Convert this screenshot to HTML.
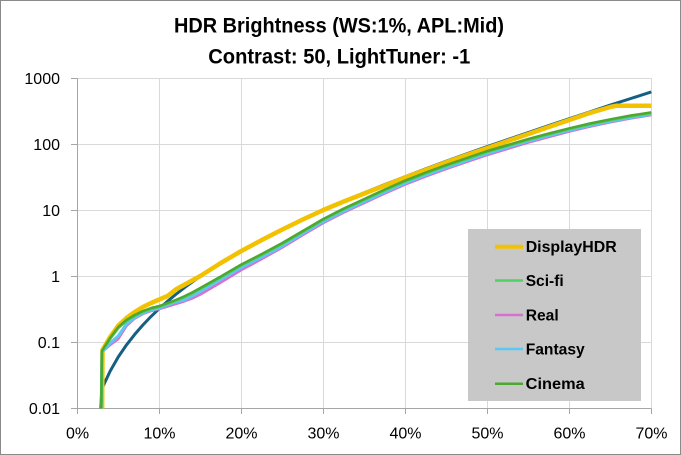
<!DOCTYPE html>
<html><head><meta charset="utf-8"><style>
html,body{margin:0;padding:0;background:#fff;}
svg{display:block;}
</style></head><body>
<svg width="681" height="455" viewBox="0 0 681 455" xmlns="http://www.w3.org/2000/svg" font-family="'Liberation Sans', Arial, sans-serif">
<rect x="0" y="0" width="681" height="455" fill="#fff"/>
<rect x="0.5" y="0.5" width="680" height="454" fill="none" stroke="#8a8a8a"/>

<!-- Title -->
<text x="174" y="32.3" font-size="21" font-weight="bold" fill="#000" textLength="330" lengthAdjust="spacingAndGlyphs">HDR Brightness (WS:1%, APL:Mid)</text>
<text x="208.3" y="63.3" font-size="21" font-weight="bold" fill="#000" textLength="262" lengthAdjust="spacingAndGlyphs">Contrast: 50, LightTuner: -1</text>

<!-- Gridlines -->
<g stroke="#d9d9d9" stroke-width="1" shape-rendering="crispEdges">
<line x1="77.5" y1="78.5" x2="651.5" y2="78.5"/>
<line x1="77.5" y1="144.5" x2="651.5" y2="144.5"/>
<line x1="77.5" y1="210.5" x2="651.5" y2="210.5"/>
<line x1="77.5" y1="276.5" x2="651.5" y2="276.5"/>
<line x1="77.5" y1="342.5" x2="651.5" y2="342.5"/>
<line x1="159.5" y1="78.5" x2="159.5" y2="408.5"/>
<line x1="241.5" y1="78.5" x2="241.5" y2="408.5"/>
<line x1="323.5" y1="78.5" x2="323.5" y2="408.5"/>
<line x1="405.5" y1="78.5" x2="405.5" y2="408.5"/>
<line x1="487.5" y1="78.5" x2="487.5" y2="408.5"/>
<line x1="569.5" y1="78.5" x2="569.5" y2="408.5"/>
<line x1="651.5" y1="78.5" x2="651.5" y2="408.5"/>
</g>

<!-- Axes -->
<g stroke="#a6a6a6" stroke-width="1" shape-rendering="crispEdges">
<line x1="77.5" y1="78.5" x2="77.5" y2="408.5"/>
<line x1="77.5" y1="408.5" x2="651.5" y2="408.5"/>
<line x1="71" y1="78.5" x2="77.5" y2="78.5"/>
<line x1="71" y1="144.5" x2="77.5" y2="144.5"/>
<line x1="71" y1="210.5" x2="77.5" y2="210.5"/>
<line x1="71" y1="276.5" x2="77.5" y2="276.5"/>
<line x1="71" y1="342.5" x2="77.5" y2="342.5"/>
<line x1="71" y1="408.5" x2="77.5" y2="408.5"/>
<line x1="77.5" y1="408.5" x2="77.5" y2="414"/>
<line x1="159.5" y1="408.5" x2="159.5" y2="414"/>
<line x1="241.5" y1="408.5" x2="241.5" y2="414"/>
<line x1="323.5" y1="408.5" x2="323.5" y2="414"/>
<line x1="405.5" y1="408.5" x2="405.5" y2="414"/>
<line x1="487.5" y1="408.5" x2="487.5" y2="414"/>
<line x1="569.5" y1="408.5" x2="569.5" y2="414"/>
<line x1="651.5" y1="408.5" x2="651.5" y2="414"/>
</g>

<!-- Y labels -->
<g font-size="16" fill="#000" text-anchor="end">
<text x="60" y="84">1000</text>
<text x="60" y="150">100</text>
<text x="60" y="216">10</text>
<text x="60" y="282">1</text>
<text x="60" y="348">0.1</text>
<text x="60" y="414">0.01</text>
</g>
<!-- X labels -->
<g font-size="16" fill="#000" text-anchor="middle">
<text x="77.5" y="438.5">0%</text>
<text x="159.5" y="438.5">10%</text>
<text x="241.5" y="438.5">20%</text>
<text x="323.5" y="438.5">30%</text>
<text x="405.5" y="438.5">40%</text>
<text x="487.5" y="438.5">50%</text>
<text x="569.5" y="438.5">60%</text>
<text x="651.5" y="438.5">70%</text>
</g>

<defs><clipPath id="pa"><rect x="77" y="60" width="580" height="348.5"/></clipPath></defs>

<g clip-path="url(#pa)" fill="none" stroke-linejoin="round" stroke-linecap="butt">
<!-- PQ reference -->
<polyline stroke="#156082" stroke-width="3" points="100.3,414 101.9,388.7 110.1,371.2 118.3,356.9 126.5,344.9 134.7,334.4 142.9,325 151.1,316.4 159.3,308.6 167.5,301.3 175.7,294.5 188,285 200.3,276.3 220.8,263 241.3,250.8 261.8,239.7 282.3,229.3 302.8,219.5 323.3,210.2 343.8,201.3 364.3,192.8 384.8,184.5 405.3,176.6 425.8,168.8 446.3,161.2 466.8,153.8 487.3,146.6 507.8,139.5 528.3,132.5 548.8,125.6 569.3,118.7 589.8,111.9 610.3,105.1 630.8,98.5 651.3,91.9"/>
<!-- DisplayHDR -->
<polyline stroke="#f2c200" stroke-width="4.5" points="102,430 102.5,350 110.1,337 118.3,325.5 126.5,318 134.7,312 142.9,307 151.1,303 159.3,299.5 167.5,296 175.7,289.5 183.9,285 192.1,280.5 200.3,276 220.8,263 241.3,251 261.8,240 282.3,229.5 302.8,219.5 323.3,210 343.8,201.5 364.3,193.5 384.8,185.5 405.3,177.5 425.8,169.8 446.3,162.3 466.8,155 487.3,148 507.8,141 528.3,134 548.8,127 569.3,120 589.8,113 610.3,107 616.5,105.7 651.3,105.7"/>
<!-- Real -->
<polyline stroke="#d870d0" stroke-width="2.5" points="101,430 101.9,352 110.1,345 118.3,339 126.5,326 134.7,318.5 142.9,314 151.1,311 159.3,309 167.5,306.5 175.7,304 183.9,301.5 192.1,298.5 200.3,294.5 220.8,282.5 241.3,270 261.8,259 282.3,247.5 302.8,235 323.3,223 343.8,212.5 364.3,203 384.8,193.5 405.3,184.5 425.8,176.5 446.3,169 466.8,162 487.3,155 507.8,148.8 528.3,142.5 548.8,137 569.3,131.5 589.8,126.6 610.3,122.3 630.8,118.4 651.3,115.1"/>
<!-- Fantasy -->
<polyline stroke="#5bc8f3" stroke-width="3" points="101,430 101.9,352 110.1,343 118.3,336 126.5,324 134.7,317.5 142.9,313 151.1,310 159.3,308 167.5,305 175.7,302 183.9,300 192.1,296 200.3,291.5 220.8,279.5 241.3,267.5 261.8,257 282.3,246 302.8,233.5 323.3,221.5 343.8,211 364.3,201.5 384.8,192 405.3,183 425.8,175 446.3,167.5 466.8,160.5 487.3,153.5 507.8,147.2 528.3,141 548.8,135.5 569.3,130.3 589.8,125.5 610.3,121.3 630.8,117.5 651.3,114.3"/>
<!-- Sci-fi -->
<polyline stroke="#4fd163" stroke-width="2.75" points="101,430 101.9,351.5 110.1,338.8 118.3,328 126.5,320.8 134.7,315.8 142.9,311.8 151.1,308.8 159.3,306.8 167.5,303.8 175.7,300.8 183.9,297.3 192.1,293.3 200.3,288.8 220.8,277.3 241.3,265.3 261.8,254.8 282.3,243.8 302.8,231.8 323.3,219.8 343.8,209.3 364.3,199.8 384.8,190.3 405.3,181.3 425.8,173.3 446.3,165.8 466.8,158.8 487.3,151.8 507.8,145.8 528.3,139.8 548.8,134.3 569.3,129.1 589.8,124.3 610.3,120.1 630.8,116.3 651.3,113.1"/>
<!-- Cinema -->
<polyline stroke="#4ea72e" stroke-width="2.5" points="101,430 101.9,351 110.1,338 118.3,327 126.5,320 134.7,315 142.9,311 151.1,308 159.3,306 167.5,303 175.7,300 183.9,296.5 192.1,292.5 200.3,288 220.8,276.5 241.3,264.5 261.8,254 282.3,243 302.8,231 323.3,219 343.8,208.5 364.3,199 384.8,189.5 405.3,180.5 425.8,172.5 446.3,165 466.8,158 487.3,151 507.8,145 528.3,139 548.8,133.5 569.3,128.3 589.8,123.5 610.3,119.3 630.8,115.5 651.3,112.3"/>
</g>

<!-- Legend -->
<rect x="468" y="229" width="173" height="172" fill="#c8c8c8"/>
<g stroke-linecap="butt">
<line x1="495" y1="246.7" x2="523" y2="246.7" stroke="#f2c200" stroke-width="4"/>
<line x1="495" y1="280.5" x2="523" y2="280.5" stroke="#4fd163" stroke-width="2.5"/>
<line x1="495" y1="315" x2="523" y2="315" stroke="#d870d0" stroke-width="2.5"/>
<line x1="495" y1="349" x2="523" y2="349" stroke="#5bc8f3" stroke-width="2.5"/>
<line x1="495" y1="383.7" x2="523" y2="383.7" stroke="#4ea72e" stroke-width="2.5"/>
</g>
<g font-size="16" font-weight="bold" fill="#000">
<text x="525.7" y="252" textLength="91" lengthAdjust="spacingAndGlyphs">DisplayHDR</text>
<text x="525.7" y="286" textLength="38" lengthAdjust="spacingAndGlyphs">Sci-fi</text>
<text x="525.7" y="320.5" textLength="33" lengthAdjust="spacingAndGlyphs">Real</text>
<text x="525.7" y="354.5" textLength="59" lengthAdjust="spacingAndGlyphs">Fantasy</text>
<text x="525.7" y="389" textLength="59" lengthAdjust="spacingAndGlyphs">Cinema</text>
</g>
</svg>
</body></html>
